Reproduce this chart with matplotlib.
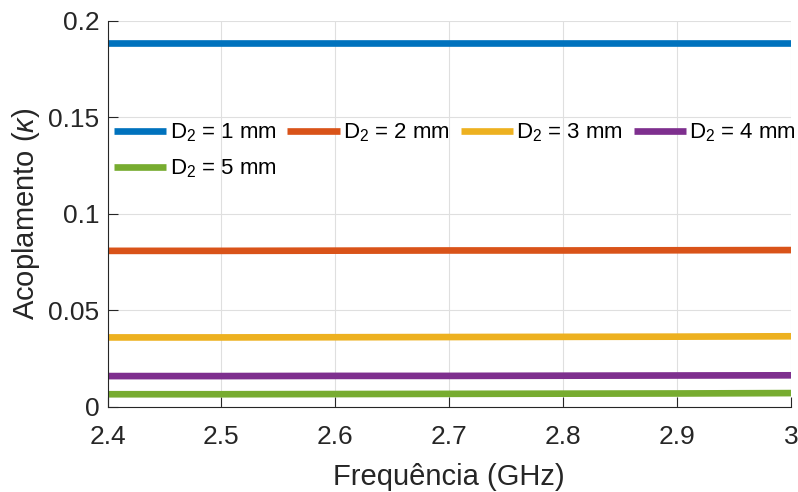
import matplotlib
matplotlib.use("Agg")
import matplotlib.pyplot as plt
import numpy as np

plt.rcParams['font.family'] = ['Liberation Sans', 'DejaVu Sans']
plt.rcParams['mathtext.fontset'] = 'custom'
plt.rcParams['mathtext.rm'] = 'Liberation Sans'
plt.rcParams['mathtext.it'] = 'Liberation Sans:italic'

freq = [2.4, 2.5, 2.6, 2.7, 2.8, 2.9, 3.0]
labels = ["D$_2$ = 1 mm", "D$_2$ = 2 mm", "D$_2$ = 3 mm", "D$_2$ = 4 mm", "D$_2$ = 5 mm"]
k1 = [0.1881, 0.1881, 0.1881, 0.1881, 0.1881, 0.1881, 0.1881]
k2 = [0.0808, 0.0808, 0.0809, 0.0810, 0.0810, 0.0811, 0.0812]
k3 = [0.0360, 0.0360, 0.0361, 0.0362, 0.0363, 0.0364, 0.0366]
k4 = [0.0160, 0.0160, 0.0161, 0.0161, 0.0162, 0.0163, 0.0164]
k5 = [0.0066, 0.0066, 0.0067, 0.0068, 0.0069, 0.0070, 0.0072]
series = [k1, k2, k3, k4, k5]
colors = ['#0072BD', '#D95319', '#EDB120', '#7E2F8E', '#77AC30']

xticks = [2.4, 2.5, 2.6, 2.7, 2.8, 2.9, 3.0]
xticklabels = ["2.4", "2.5", "2.6", "2.7", "2.8", "2.9", "3"]
yticks = [0, 0.05, 0.1, 0.15, 0.2]
yticklabels = ["0", "0.05", "0.1", "0.15", "0.2"]

fig = plt.figure(figsize=(7.98, 4.92), dpi=100)
ax = fig.add_axes([107.5/798, 1 - 407/492, (791 - 107.5)/798, (407 - 20.5)/492])

handles = []
for s, c, l in zip(series, colors, labels):
    h, = ax.plot(freq, s, color=c, lw=4.8, label=l, solid_capstyle='butt')
    handles.append(h)

ax.set_xlim(2.4, 3.0)
ax.set_ylim(0, 0.2)
ax.set_xticks(xticks)
ax.set_xticklabels(xticklabels)
ax.set_yticks(yticks)
ax.set_yticklabels(yticklabels)
ax.grid(True, color='#DFDFDF', lw=0.8)
ax.set_axisbelow(True)
for sp in ['top', 'right']:
    ax.spines[sp].set_visible(False)
for sp in ['left', 'bottom']:
    ax.spines[sp].set_color('#262626')
    ax.spines[sp].set_linewidth(0.8)
ax.tick_params(direction='in', length=7, width=0.8, colors='#262626', labelsize=19)
ax.tick_params(axis='x', pad=13)
ax.tick_params(axis='y', pad=6)
for t in ax.get_xticklabels() + ax.get_yticklabels():
    t.set_color('#262626')

ax.set_xlabel("Frequência (GHz)", fontsize=21, color='#262626', labelpad=10)
ax.set_ylabel("Acoplamento ($\\kappa$)", fontsize=21, color='#262626', labelpad=4)

# column-major fill -> reorder so rows read 1,2,3,4 / 5
order = [0, 4, 1, 2, 3]
leg = ax.legend([handles[i] for i in order], [labels[i] for i in order],
                ncol=4, loc='upper left', bbox_to_anchor=(0.0, 0.756),
                frameon=False, fontsize=16, handlelength=2.35,
                handletextpad=0.15, columnspacing=0.48, labelspacing=0.62,
                borderaxespad=0.0, borderpad=0.3)

fig.savefig("out.png", dpi=100)
